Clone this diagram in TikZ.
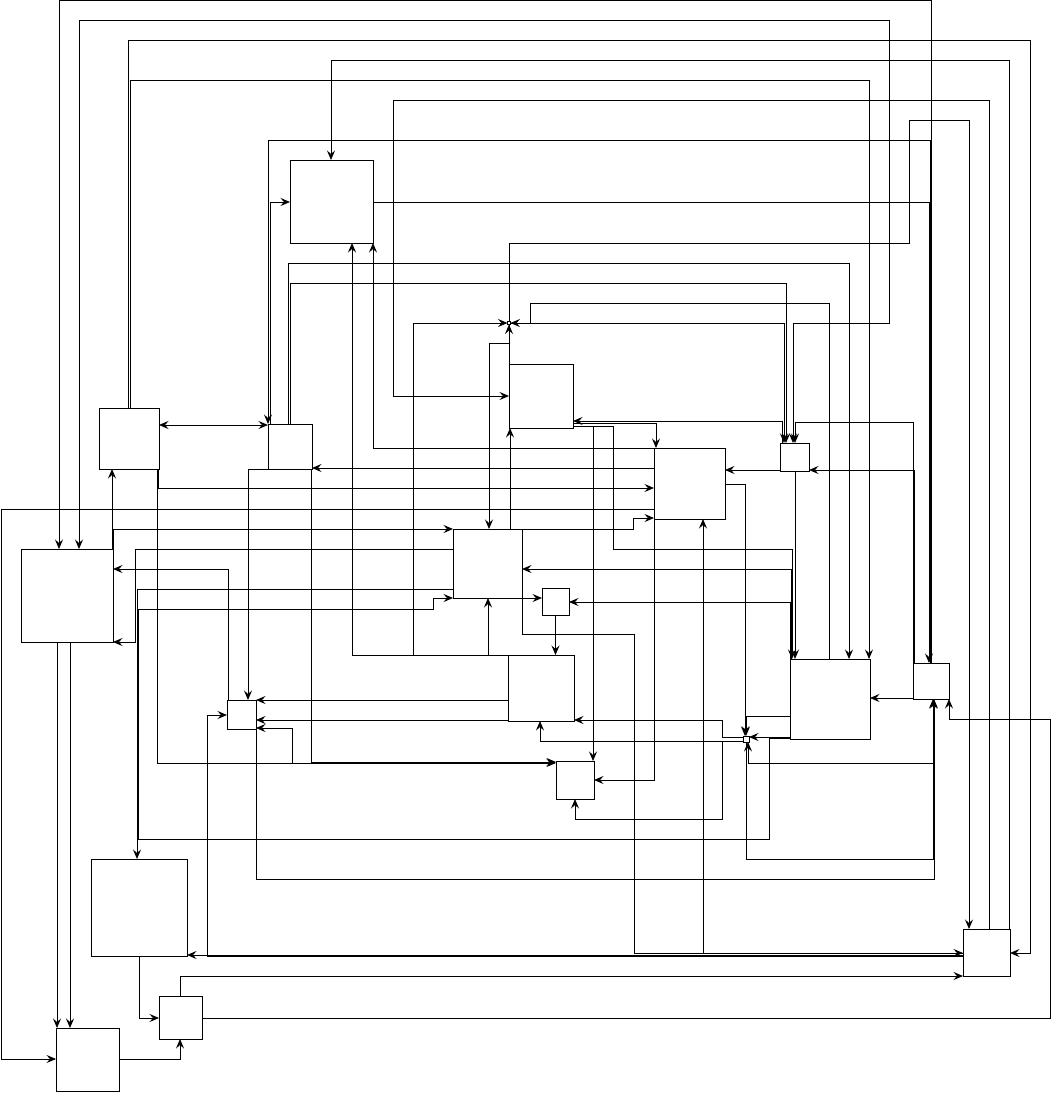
\documentclass[tikz,border=0pt]{standalone}
\usepackage{tikz}
\usetikzlibrary{arrows.meta}

\begin{document}
\begin{tikzpicture}[x=1pt,y=-1pt,
		blk/.style={draw, line width=0.8pt, inner sep=0pt, outer sep=0pt},
		wire/.style={draw, line width=0.8pt},
		arr/.style={wire, -{Stealth[length=9.5pt,width=8pt,inset=3.5pt]}},
		darr/.style={wire, {Stealth[length=9.5pt,width=8pt,inset=3.5pt]}-{Stealth[length=9.5pt,width=8pt,inset=3.5pt]}}]

		%%Location
		\useasboundingbox (0,0) rectangle (1052,1093);

		%%Boxes
		\node[blk, minimum width=83pt, minimum height=83pt] (b1) at (331.5,201.5) {};
		\node[blk, minimum width=60pt, minimum height=61pt] (b2) at (129,438.5) {};
		\node[blk, minimum width=44pt, minimum height=45pt] (b3) at (290,446.5) {};
		\node[blk, minimum width=64pt, minimum height=64pt] (b4) at (541,396) {};
		\node[blk, minimum width=71pt, minimum height=71pt] (b5) at (689.5,483.5) {};
		\node[blk, minimum width=29pt, minimum height=28pt] (b6) at (794.5,457) {};
		\node[blk, minimum width=92pt, minimum height=93pt] (b7) at (67,595.5) {};
		\node[blk, minimum width=69pt, minimum height=69pt] (b8) at (487.5,563.5) {};
		\node[blk, minimum width=27pt, minimum height=27pt] (b9) at (555.5,601.5) {};
		\node[blk, minimum width=66pt, minimum height=66pt] (b10) at (541,688) {};
		\node[blk, minimum width=80pt, minimum height=80pt] (b11) at (830,699) {};
		\node[blk, minimum width=36pt, minimum height=36pt] (b12) at (931,681) {};
		\node[blk, minimum width=29pt, minimum height=29pt] (b13) at (241.5,714.5) {};
		\node[blk, minimum width=6pt, minimum height=6pt] (b14) at (746,739) {};
		\node[blk, minimum width=38pt, minimum height=38pt] (b15) at (575,780) {};
		\node[blk, minimum width=96pt, minimum height=97pt] (b16) at (139,907.5) {};
		\node[blk, minimum width=47pt, minimum height=47pt] (b17) at (986.5,952.5) {};
		\node[blk, minimum width=43pt, minimum height=43pt] (b18) at (180.5,1017.5) {};
		\node[blk, minimum width=63pt, minimum height=63pt] (b19) at (87.5,1059.5) {};
		\node[blk, minimum width=3pt, minimum height=3pt] (j) at (509,323) {};

		%%Outer loops
		\draw[arr] (b12.north -| 931,0) |- (59,0) -- (b7.north -| 59,0);
		\draw[darr] (b7.north -| 79,0) |- (889,20) |- (793,323) -- (b6.north -| 793,0);
		\draw[arr] (b2.north -| 128,0) |- (1030,40) |- (b17.east |- 0,953);
		\draw[arr] (b17.north -| 1009,0) |- (331,60) -- (b1.north -| 331,0);
		\draw[arr] (b2.north -| 130,0) |- (869,80) -- (b11.north -| 869,0);
		\draw[arr] (b17.north -| 989,0) |- (393,100) |- (b4.west |- 0,396);
		\draw[arr] (j.north) |- (909,243) |- (969,120) -- (b17.north -| 969,0);
		\draw[arr] (b12.north -| 930,0) |- (268,140) -- (b3.north -| 268,0);
		\draw[arr] (b1.east |- 0,202) -| (b12.north -| 929,0);
		\draw[arr] (b3.north -| 270,0) |- (b1.west |- 0,202);
		\draw[arr] (b3.north -| 288,0) |- (849,263) -- (b11.north -| 849,0);
		\draw[arr] (b3.north -| 290,0) |- (786,283) -- (b6.north -| 786,0);
		\draw[arr] (b11.north -| 829,0) |- (530,303) |- (j.east);
		\draw[arr] (j.east) -| (b6.north -| 784,0);

		%%Middle
		\draw[arr] (b6.north -| 782,0) |- (b4.east |- 0,421);
		\draw[arr] (b4.east |- 0,423) -| (b5.north -| 656,0);
		\draw[arr] (b4.east |- 0,426) -| (b15.north -| 593,0);
		\draw[arr] (b4.east |- 0,426) -| (613,549) -| (b11.north -| 792,0);
		\draw[arr] (b6.south -| 795,0) -- (b11.north -| 795,0);
		\draw[arr] (b12.north -| 913,0) |- (795,422) -- (b6.north -| 795,0);
		\draw[arr] (b12.north -| 914,0) |- (b6.east |- 0,470);
		\draw[arr] (b6.west |- 0,470) -- (b5.east |- 0,470);
		\draw[arr] (b5.east |- 0,484) -| (b14.north -| 745,0);
		\draw[arr] (b5.west |- 0,468) -- (b3.east |- 0,468);
		\draw[arr] (b2.south -| 158,0) |- (b5.west |- 0,488);
		\draw[arr] (b5.west |- 0,509) -| (1,1059) -- (b19.west |- 0,1059);
		\draw[arr] (b7.north -| 112,0) -- (b2.south -| 112,0);
		\draw[arr] (b7.north -| 113,0) |- (b8.west |- 0,529);
		\draw[arr] (b8.north east) -| (633,518) -- (b5.west |- 0,518);
		\draw[arr] (b5.north west) -| (b1.south -| 373,0);
		\draw[arr] (b8.west |- 0,549) -| (135,642) -- (b7.east |- 0,642);
		\draw[arr] (b13.north -| 228,0) |- (b7.east |- 0,569);
		\draw[arr] (b8.west |- 0,589) -| (b16.north -| 137,0);
		\draw[arr] (b11.west |- 0,738) -| (769,839) -| (138,609) -| (433,598) -- (b8.west |- 0,598);
		\draw[darr] (b2.east |- 0,425) -- (b3.west |- 0,425);
		\draw[arr] (b10.north west) -| (b1.south -| 352,0);
		\draw[arr] (b10.north west) -| (413,323) -- (j.west);
		\draw[arr] (b10.north west) -| (b8.south -| 488,0);
		\draw[arr] (b8.south east) -- (b9.west |- b8.south east);
		\draw[arr] (b9.south) -- (b10.north -| b9.south);
		\draw[arr] (b11.north -| 790,0) |- (b9.east |- 0,602);
		\draw[arr] (b11.north -| 791,0) |- (b8.east |- 0,569);
		\draw[arr] (j.south) |- (489,343) -- (b8.north -| 489,0);
		\draw[arr] (b4.north west) -- (j.south);
		\draw[arr] (b8.north -| 510,0) -- (b4.south -| 510,0);

		%%Lower part
		\draw[arr] (b12.west |- 0,698) -- (b11.east |- 0,698);
		\draw[arr] (b11.west |- 0,716) -| (b14.north -| 746,0);
		\draw[arr] (b11.west |- 0,737) -- (b14.east |- 0,737);
		\draw[arr] (b14.west |- 0,737) -| (722,720) -- (b10.east |- 0,720);
		\draw[arr] (b14.west |- 0,741) -| (722,819) -| (b15.south -| 575,0);
		\draw[arr] (b14.west |- 0,741) -| (b10.south -| 540,0);
		\draw[arr] (b12.south -| 933,0) |- (748,763) -- (b14.south -| 748,0);
		\draw[arr] (b14.south -| 746,0) |- (933,859) -- (b12.south -| 933,0);
		\draw[arr] (b13.south -| 256,0) |- (934,879) -- (b12.south -| 934,0);
		\draw[arr] (b10.west |- 0,700) -- (b13.east |- 0,700);
		\draw[arr] (b10.west |- 0,720) -- (b13.east |- 0,720);
		\draw[arr] (b2.south -| 157,0) |- (292,763) |- (b13.east |- 0,728);
		\draw[arr] (b2.south -| 157,0) |- (b15.west |- 0,763);
		\draw[arr] (b3.south -| 311,0) |- (b15.west |- 0,762);
		\draw[arr] (b3.south west) -| (b13.north -| 248,0);
		\draw[arr] (b5.south west) |- (b15.east |- 0,780);
		\draw[arr] (b8.south east) |- (634,634) |- (b17.west |- 0,953);
		\draw[arr] (b17.west |- 0,953) -| (b5.south -| 703,0);
		\draw[arr] (b17.west |- 0,955) -- (b16.east |- 0,955);
		\draw[arr] (b17.west |- 0,956) -| (207,715) -- (b13.west |- 0,715);
		\draw[arr] (b18.north -| 180,0) |- (b17.west |- 0,976);
		\draw[arr] (b18.east |- 0,1018) -| (1050,719) -| (b12.south -| 949,0);
		\draw[arr] (b19.east |- 0,1059) -| (b18.south -| 180,0);
		\draw[arr] (b16.south -| 139,0) |- (b18.west |- 0,1018);
		\draw[arr] (b7.south -| 57,0) -- (b19.north -| 57,0);
		\draw[arr] (b7.south -| 70,0) -- (b19.north -| 70,0);
\end{tikzpicture}
\end{document}
